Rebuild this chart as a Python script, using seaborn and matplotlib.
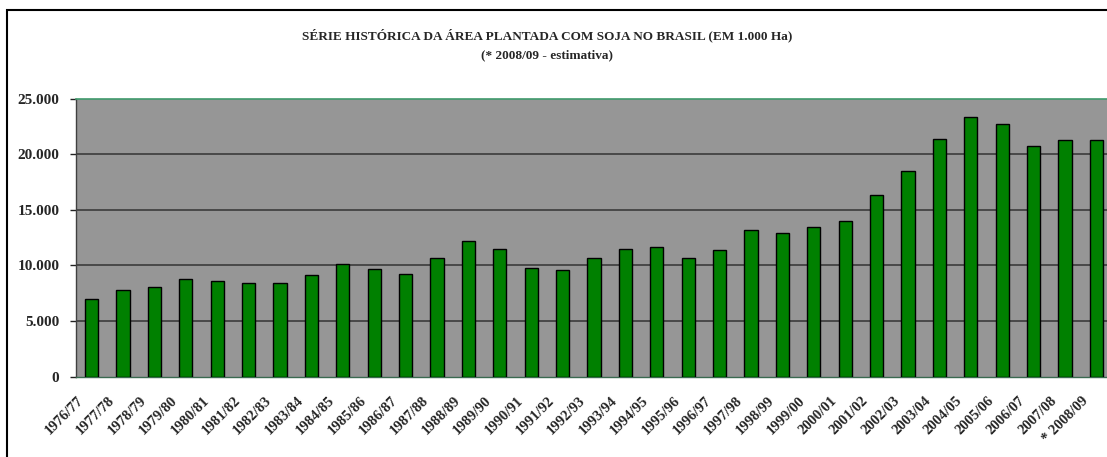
import matplotlib
matplotlib.use("Agg")
import matplotlib.pyplot as plt
import matplotlib.transforms as mtransforms
from matplotlib.patches import Rectangle
from matplotlib.ticker import FuncFormatter
import seaborn as sns
import pandas as pd

safras = ["1976/77", "1977/78", "1978/79", "1979/80", "1980/81", "1981/82", "1982/83",
          "1983/84", "1984/85", "1985/86", "1986/87", "1987/88", "1988/89", "1989/90",
          "1990/91", "1991/92", "1992/93", "1993/94", "1994/95", "1995/96", "1996/97",
          "1997/98", "1998/99", "1999/00", "2000/01", "2001/02", "2002/03", "2003/04",
          "2004/05", "2005/06", "2006/07", "2007/08", "* 2008/09"]
area = [6950, 7780, 8100, 8770, 8620, 8440, 8420,
        9130, 10090, 9640, 9250, 10690, 12220, 11500,
        9740, 9580, 10690, 11500, 11700, 10680, 11400,
        13150, 12950, 13490, 13970, 16370, 18480, 21380,
        23300, 22750, 20690, 21310, 21300]

title1 = "SÉRIE HISTÓRICA DA ÁREA PLANTADA COM SOJA NO BRASIL (EM 1.000 Ha)"
title2 = "(* 2008/09 - estimativa)"

df = pd.DataFrame({"safra": safras, "area": area})

sns.set_theme(style="white")
plt.rcParams["font.family"] = ["Liberation Serif", "DejaVu Serif"]

W, H = 1107, 457
fig = plt.figure(figsize=(W / 100, H / 100), dpi=100)
fig.patch.set_facecolor("white")

# axes geometry in pixels
left, right, top, bottom = 76, 1112, 98.5, 376.7
ax = fig.add_axes([left / W, (H - bottom) / H, (right - left) / W, (bottom - top) / H])
ax.set_facecolor("#969696")

sns.barplot(data=df, x="safra", y="area", color="#008000", saturation=1,
            width=0.42, edgecolor="black", linewidth=1.0, ax=ax, zorder=3)

ax.set_xlim(-0.5, len(safras) - 0.5)
ax.set_ylim(0, 25000)
ax.set_yticks([0, 5000, 10000, 15000, 20000, 25000])
ax.yaxis.set_major_formatter(FuncFormatter(lambda v, p: f"{int(v):,}".replace(",", ".")))
ax.set_xlabel("")
ax.set_ylabel("")

for yv in [5000, 10000, 15000, 20000]:
    ax.axhline(yv, color="#333333", lw=1.1, zorder=1)

for s in ["left", "bottom", "top", "right"]:
    ax.spines[s].set_visible(True)
ax.spines["top"].set_color("#3f9a6c")
ax.spines["top"].set_linewidth(1.2)
ax.spines["left"].set_color("#404040")
ax.spines["left"].set_linewidth(1.0)
ax.spines["bottom"].set_color("#3a6a50")
ax.spines["bottom"].set_linewidth(1.0)
ax.spines["right"].set_visible(False)

ax.tick_params(axis="both", which="major", direction="out", length=4, width=1,
               color="#222222", left=True, bottom=True)
ax.tick_params(axis="y", labelsize=11, pad=8)
ax.tick_params(axis="x", labelsize=10.5, pad=3)

# ticks between categories on x axis
ax.set_xticks([i for i in range(len(safras))])
ax.set_xticklabels(safras)
ax.set_xticks([i - 0.5 for i in range(len(safras) + 1)], minor=True)
ax.tick_params(axis="x", which="major", length=0)
ax.tick_params(axis="x", which="minor", direction="out", length=4, width=1, color="#222222")

for lab in ax.get_yticklabels():
    lab.set_fontweight("bold")

shift = mtransforms.ScaledTranslation(-15 / 100, -13 / 100, fig.dpi_scale_trans)
for lab in ax.get_xticklabels():
    lab.set_fontweight("bold")
    lab.set_rotation(45)
    lab.set_ha("right")
    lab.set_va("top")
    lab.set_rotation_mode("anchor")
    lab.set_transform(lab.get_transform() + shift)

fig.text(547 / W, 1 - 35 / H, title1, ha="center", va="center", fontsize=9.5,
         fontweight="bold")
fig.text(547 / W, 1 - 55 / H, title2, ha="center", va="center", fontsize=9.5,
         fontweight="bold")

# chart border
fig.add_artist(Rectangle((7 / W, -0.05), 1.1, 1 - 10 / H + 0.05, transform=fig.transFigure,
                         fill=False, edgecolor="black", lw=1.5))

fig.savefig("out.png", dpi=100, facecolor="white")
